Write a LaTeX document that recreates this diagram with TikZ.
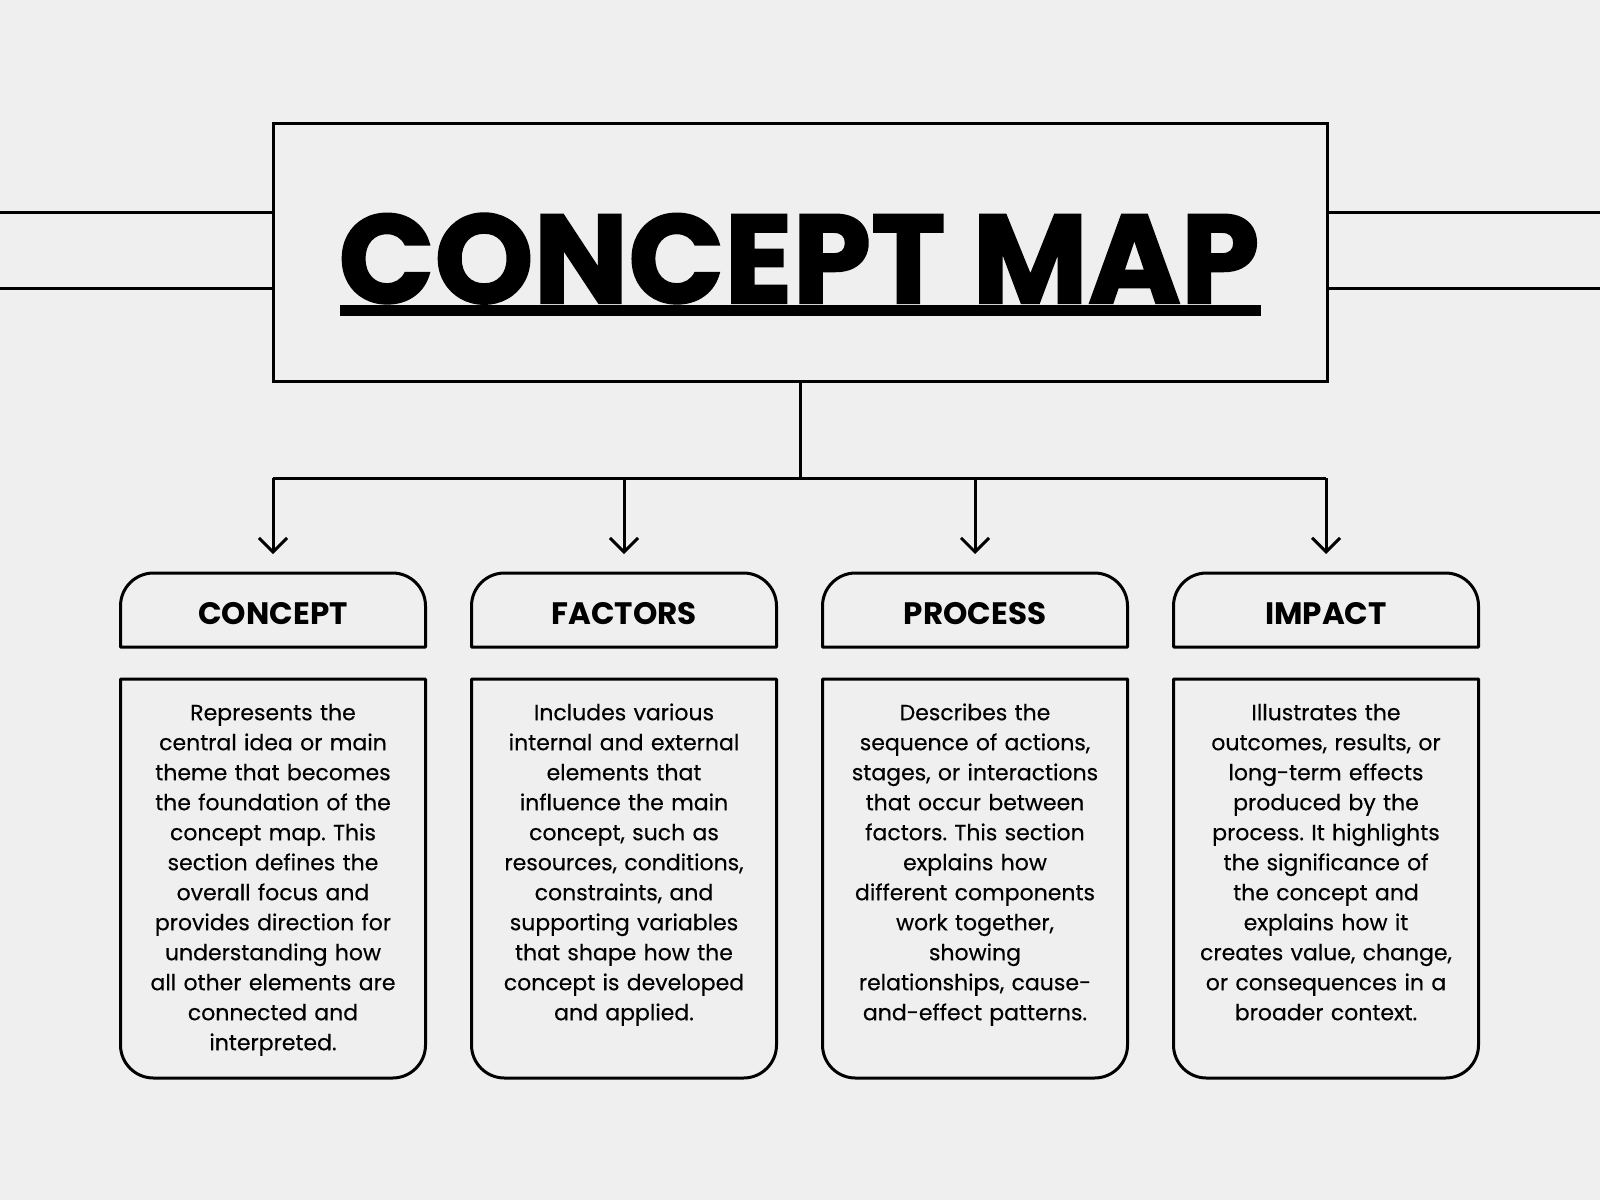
\documentclass[tikz,border=0pt]{standalone}
\usepackage{fontspec}
\setmainfont{Poppins}
\newfontfamily\bodyfont[FakeBold=0.35]{Poppins}
\newfontfamily\titlefont[FakeBold=1.6]{Poppins}
\frenchspacing
\usetikzlibrary{arrows.meta}
\definecolor{bg}{HTML}{EFEFEF}
\tikzset{
  boxline/.style={line width=3pt, line join=round},
  conn/.style={line width=3pt},
  arrowconn/.style={line width=3pt, -{Straight Barb[length=14pt,width=28pt]}, shorten >=19pt},
  titlebox/.style={draw, line width=3pt, minimum width=1054pt, minimum height=258pt, inner sep=0pt, outer sep=0pt},
  titletext/.style={anchor=base, inner sep=0pt, font=\titlefont\fontsize{126}{126}\selectfont\bfseries},
  hdr/.style={minimum width=305pt, minimum height=74pt, inner sep=0pt, outer sep=0pt, font=\fontsize{31}{34}\selectfont\bfseries},
  descbox/.style={minimum width=305pt, minimum height=399pt, inner sep=0pt, outer sep=0pt},
  desc/.style={anchor=north, align=center, text width=300pt, inner sep=0pt, font=\bodyfont\fontsize{22}{30}\selectfont},
}
\newcommand{\hdrshape}[1]{%
  \draw[boxline] (#1.south west) -- ([yshift=-33pt]#1.north west)
    arc[start angle=180, end angle=90, radius=33pt]
    -- ([xshift=-33pt]#1.north east)
    arc[start angle=90, end angle=0, radius=33pt]
    -- (#1.south east) -- cycle;}
\newcommand{\descshape}[1]{%
  \draw[boxline] (#1.north west) -- ([yshift=33pt]#1.south west)
    arc[start angle=180, end angle=270, radius=33pt]
    -- ([xshift=-33pt]#1.south east)
    arc[start angle=270, end angle=360, radius=33pt]
    -- (#1.north east) -- cycle;}
\newcommand{\hdrtext}[1]{\raisebox{-3pt}[\height][0pt]{#1}}
\begin{document}
\begin{tikzpicture}[x=1pt, y=-1pt]
\fill[bg] (0,0) rectangle (1600,1200);
\useasboundingbox (0,0) rectangle (1600,1200);

% title
\node[titlebox] (tbox) at (800,252) {};
\node[titletext] (ttl) at (799,303) {CONCEPT MAP};
\fill (340,305) rectangle (1261,316);

% side lines
\coordinate (la) at (0,212);
\coordinate (lb) at (0,288);
\coordinate (ra) at (1600,212);
\coordinate (rb) at (1600,288);
\draw[conn] (la) -- (la -| tbox.west);
\draw[conn] (lb) -- (lb -| tbox.west);
\draw[conn] (ra) -- (ra -| tbox.east);
\draw[conn] (rb) -- (rb -| tbox.east);

% headers
\node[hdr] (h1) at (273,610) {\hdrtext{CONCEPT}};
\node[hdr] (h2) at (624,610) {\hdrtext{FACTORS}};
\node[hdr] (h3) at (975,610) {\hdrtext{PROCESS}};
\node[hdr] (h4) at (1326,610) {\hdrtext{IMPACT}};
\hdrshape{h1}\hdrshape{h2}\hdrshape{h3}\hdrshape{h4}

% connectors
\coordinate (bj) at (800,478);
\coordinate (b1) at (273,478);
\coordinate (b2) at (624,478);
\coordinate (b3) at (975,478);
\coordinate (b4) at (1326,478);
\draw[conn] (tbox.south) -- (bj);
\draw[conn] (b1) -- (b4);
\draw[arrowconn] (b1) -- (h1.north);
\draw[arrowconn] (b2) -- (h2.north);
\draw[arrowconn] (b3) -- (h3.north);
\draw[arrowconn] (b4) -- (h4.north);

% description boxes
\node[descbox] (d1) at (273,878.5) {};
\node[descbox] (d2) at (624,878.5) {};
\node[descbox] (d3) at (975,878.5) {};
\node[descbox] (d4) at (1326,878.5) {};
\descshape{d1}\descshape{d2}\descshape{d3}\descshape{d4}

\node[desc] (t1) at (273,700) {\rule{0pt}{20pt}Represents the\\ central idea or main\\ theme that becomes\\ the foundation of the\\ concept map. This\\ section defines the\\ overall focus and\\ provides direction for\\ understanding how\\ all other elements are\\ connected and\\ interpreted.};
\node[desc] (t2) at (624,700) {\rule{0pt}{20pt}Includes various\\ internal and external\\ elements that\\ influence the main\\ concept, such as\\ resources, conditions,\\ constraints, and\\ supporting variables\\ that shape how the\\ concept is developed\\ and applied.};
\node[desc] (t3) at (975,700) {\rule{0pt}{20pt}Describes the\\ sequence of actions,\\ stages, or interactions\\ that occur between\\ factors. This section\\ explains how\\ different components\\ work together,\\ showing\\ relationships, cause-\\ and-effect patterns.};
\node[desc] (t4) at (1326,700) {\rule{0pt}{20pt}Illustrates the\\ outcomes, results, or\\ long-term effects\\ produced by the\\ process. It highlights\\ the significance of\\ the concept and\\ explains how it\\ creates value, change,\\ or consequences in a\\ broader context.};
\end{tikzpicture}
\end{document}
